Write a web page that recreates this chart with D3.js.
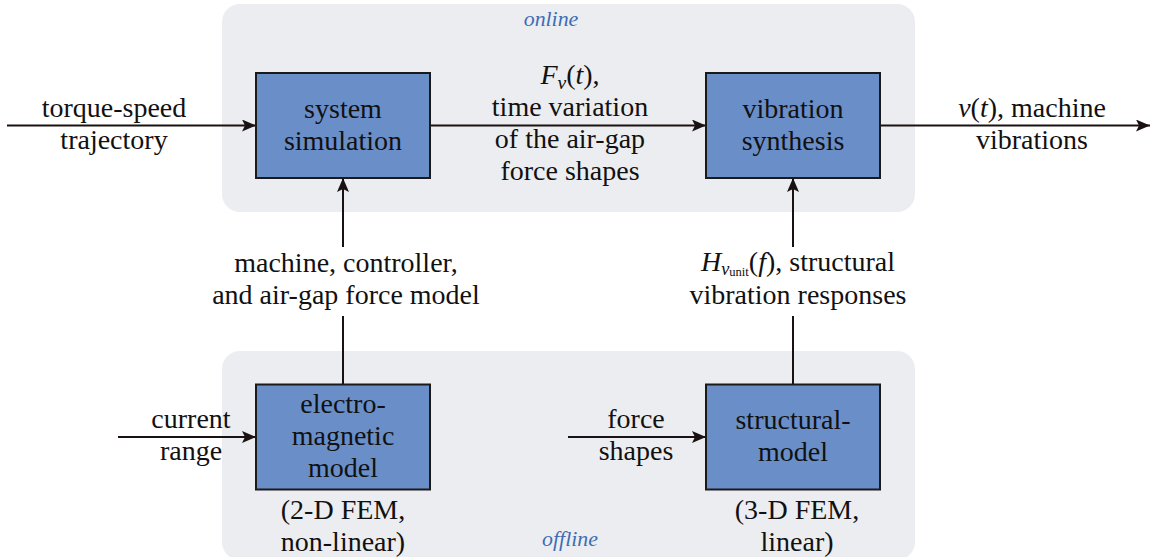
<!DOCTYPE html>
<html>
<head>
<meta charset="utf-8">
<script src="https://cdn.jsdelivr.net/npm/d3@7"></script>
<style>
  body { margin: 0; background: #fff; }
</style>
</head>
<body>
<div id="chart"></div>
<script>
// ********************* diagram data *********************
// grid: two block columns, two block rows
const columns = ["left", "right"]
const rows = ["online", "offline"]

const blocks = [
  { id: "sim",  col: "left",  row: "online",  lines: ["system", "simulation"] },
  { id: "vib",  col: "right", row: "online",  lines: ["vibration", "synthesis"] },
  { id: "em",   col: "left",  row: "offline", lines: ["electro-", "magnetic", "model"] },
  { id: "str",  col: "right", row: "offline", lines: ["structural-", "model"] }
]

const panels = [
  { row: "online",  label: "online" },
  { row: "offline", label: "offline" }
]

// notes below the offline blocks
const notes = [
  { col: "left",  lines: ["(2-D FEM,", "non-linear)"] },
  { col: "right", lines: ["(3-D FEM,", "linear)"] }
]

const width = 1155
const height = 557

const colX = d3.scalePoint().domain(columns).range([343, 793])
const rowY = d3.scalePoint().domain(rows).range([125.5, 437])

const boxW = 174
const boxH = 105
const lineH = 32

// find a serif face that is really installed
const ctx = document.createElement("canvas").getContext("2d")
const sample = "time variation mmmWWiil"
function widthIn(f) { ctx.font = "40px " + f; return ctx.measureText(sample).width }
const candidates = ["Liberation Serif", "DejaVu Serif", "Noto Serif", "FreeSerif", "Tinos", "Times New Roman", "Times"]
let family = "serif"
for (const c of candidates) {
  const w = widthIn("'" + c + "'")
  if (w != widthIn("monospace") || w != widthIn("sans-serif")) {
    if (widthIn("'" + c + "', monospace") != widthIn("monospace")) { family = "'" + c + "'"; break }
  }
}
const fontFamily = family + ", serif"

const svg = d3.select("#chart")
  .append("svg")
  .attr("width", width)
  .attr("height", height)
  .style("font-family", fontFamily)

// pick a font size so "time variation" is about as wide as in the reference
const probe = svg.append("text").style("font-size", "20px").text("time variation")
const probeW = probe.node().getComputedTextLength() || 115
probe.remove()
const fs = Math.min(28, Math.max(20, 20 * 161 / probeW))

svg.append("defs").append("marker")
  .attr("id", "head")
  .attr("viewBox", "0 0 14 12")
  .attr("refX", 14)
  .attr("refY", 6)
  .attr("markerWidth", 14)
  .attr("markerHeight", 12)
  .attr("markerUnits", "userSpaceOnUse")
  .attr("orient", "auto")
  .append("path")
  .attr("d", "M0,0 L14,6 L0,12 L3,6 Z")
  .attr("fill", "#1a1212")

// ******************* panels *******************
const panelTop = { online: 4, offline: 351 }
const panelBottom = { online: 212, offline: 560 }

svg.selectAll("rect.panel")
  .data(panels)
  .enter()
  .append("rect")
  .attr("class", "panel")
  .attr("x", 222)
  .attr("y", d => panelTop[d.row])
  .attr("width", 915 - 222)
  .attr("height", d => panelBottom[d.row] - panelTop[d.row])
  .attr("rx", 18)
  .attr("fill", "#ecedf0")

svg.selectAll("text.panel-label")
  .data(panels)
  .enter()
  .append("text")
  .attr("class", "panel-label")
  .attr("x", d => d.row == "online" ? 551 : 570)
  .attr("y", d => d.row == "online" ? 26 : 546)
  .attr("text-anchor", "middle")
  .style("font-style", "italic")
  .style("font-size", (fs * 0.78) + "px")
  .style("fill", "#3d6db4")
  .text(d => d.label)

// ******************* connections *******************
const boxLeft = b => colX(b.col) - boxW / 2
const boxRight = b => colX(b.col) + boxW / 2
const boxTop = b => rowY(b.row) - boxH / 2
const boxBottom = b => rowY(b.row) + boxH / 2
const byId = {}
blocks.forEach(b => byId[b.id] = b)

const links = [
  // [x1, y1, x2, y2, arrow]
  [7, rowY("online"), boxLeft(byId.sim), rowY("online"), true],
  [boxRight(byId.sim), rowY("online"), boxLeft(byId.vib), rowY("online"), true],
  [boxRight(byId.vib), rowY("online"), 1150, rowY("online"), true],
  [colX("left"), 247, colX("left"), boxBottom(byId.sim), true],
  [colX("right"), 247, colX("right"), boxBottom(byId.vib), true],
  [colX("left"), boxTop(byId.em), colX("left"), 316, false],
  [colX("right"), boxTop(byId.str), colX("right"), 316, false],
  [118, rowY("offline"), boxLeft(byId.em), rowY("offline"), true],
  [568, rowY("offline"), boxLeft(byId.str), rowY("offline"), true]
]

svg.selectAll("line.link")
  .data(links)
  .enter()
  .append("line")
  .attr("class", "link")
  .attr("x1", d => d[0])
  .attr("y1", d => d[1])
  .attr("x2", d => d[2])
  .attr("y2", d => d[3])
  .attr("stroke", "#1a1212")
  .attr("stroke-width", 2)
  .attr("marker-end", d => d[4] ? "url(#head)" : null)

// ******************* blocks *******************
const g = svg.selectAll("g.block")
  .data(blocks)
  .enter()
  .append("g")
  .attr("class", "block")

g.append("rect")
  .attr("x", d => boxLeft(d))
  .attr("y", d => boxTop(d))
  .attr("width", boxW)
  .attr("height", boxH)
  .attr("fill", "#6a8ec8")
  .attr("stroke", "#1a1a1a")
  .attr("stroke-width", 2)

g.each(function(d) {
  const n = d.lines.length
  d3.select(this).selectAll("text")
    .data(d.lines)
    .enter()
    .append("text")
    .attr("x", colX(d.col))
    .attr("y", (t, i) => rowY(d.row) + 8 + (i - (n - 1) / 2) * lineH)
    .attr("text-anchor", "middle")
    .style("font-size", fs + "px")
    .style("fill", "#111")
    .text(t => t)
})

// ******************* labels *******************
function label(x, y0, lines) {
  const t = svg.append("g")
  lines.forEach((l, i) => {
    const el = t.append("text")
      .attr("x", x)
      .attr("y", y0 + i * lineH)
      .attr("text-anchor", "middle")
      .style("font-size", fs + "px")
      .style("fill", "#111")
    if (typeof l == "string") el.text(l)
    else l(el)
  })
}

label(114, 117, ["torque-speed", "trajectory"])

label(570, 84, [
  el => {
    el.append("tspan").style("font-style", "italic").text("F")
    el.append("tspan").attr("dy", 5).style("font-style", "italic").style("font-size", (fs * 0.7) + "px").text("ν")
    el.append("tspan").attr("dy", -5).text("(")
    el.append("tspan").style("font-style", "italic").text("t")
    el.append("tspan").text("),")
  },
  "time variation", "of the air-gap", "force shapes"
])

label(1032, 117, [
  el => {
    el.append("tspan").style("font-style", "italic").text("v")
    el.append("tspan").text("(")
    el.append("tspan").style("font-style", "italic").text("t")
    el.append("tspan").text("), machine")
  },
  "vibrations"
])

label(346, 272, ["machine, controller,", "and air-gap force model"])

label(798, 271, [
  el => {
    el.append("tspan").style("font-style", "italic").text("H")
    el.append("tspan").attr("dy", 4).style("font-style", "italic").style("font-size", (fs * 0.65) + "px").text("v")
    el.append("tspan").attr("dy", 1).style("font-size", (fs * 0.45) + "px").text("unit")
    el.append("tspan").attr("dy", -5).text("(")
    el.append("tspan").style("font-style", "italic").text("f")
    el.append("tspan").text("), structural")
  }
])
label(798, 304, ["vibration responses"])

label(191, 428, ["current", "range"])
label(636, 428, ["force", "shapes"])

notes.forEach(n => label(colX(n.col) + (n.col == "right" ? 4 : 0), 519, n.lines))
</script>
</body>
</html>
